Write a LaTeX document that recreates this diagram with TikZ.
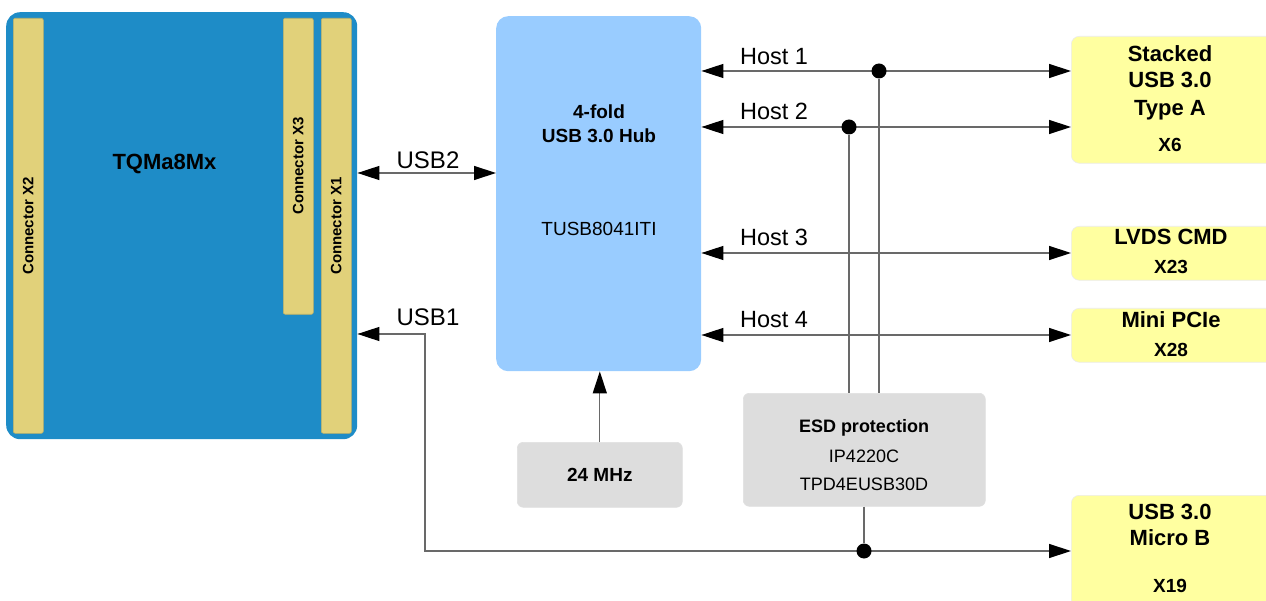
\documentclass[tikz,border=0pt]{standalone}
\usepackage{fontspec}
\setmainfont{Liberation Sans}
\usetikzlibrary{arrows.meta}
\definecolor{moduleblue}{RGB}{30,140,199}
\definecolor{connyellow}{RGB}{225,209,122}
\definecolor{hubblue}{RGB}{153,204,255}
\definecolor{chipgray}{RGB}{221,221,221}
\definecolor{portyellow}{RGB}{255,255,160}
\definecolor{wiregray}{RGB}{105,105,105}
\tikzset{
  box/.style={rectangle, anchor=north west, inner sep=0pt},
  module/.style={box, fill=moduleblue, rounded corners=14pt},
  conn/.style={box, fill=connyellow, draw=connyellow!85!black, line width=0.6pt, rounded corners=2pt},
  hubbox/.style={box, fill=hubblue, rounded corners=12pt},
  chip/.style={box, fill=chipgray, draw=black!12, line width=0.6pt, rounded corners=6pt},
  port/.style={box, fill=portyellow, draw=black!8, line width=0.6pt, rounded corners=8pt},
  txt/.style={anchor=base, inner sep=0pt, font=\fontsize{#1pt}{#1pt}\selectfont},
  btxt/.style={anchor=base, inner sep=0pt, font=\fontsize{#1pt}{#1pt}\selectfont\bfseries},
  wire/.style={draw=wiregray, line width=1.3pt, >={Triangle[length=22pt, width=14pt, color=black]}},
  junction/.style={circle, fill=black, inner sep=0pt, minimum size=15pt},
}

\begin{document}
\begin{tikzpicture}[x=1pt, y=-1pt]
  \useasboundingbox (0,0) rectangle (1266,601);
  \clip (0,0) rectangle (1266,601);

  % module with its connectors
  \node[module, minimum width=351pt, minimum height=427pt] (tqm) at (6,12) {};
  \node[conn, minimum width=30pt, minimum height=415pt] (conx2) at (13,18) {};
  \node[conn, minimum width=30pt, minimum height=296pt] (conx3) at (283,18) {};
  \node[conn, minimum width=30pt, minimum height=415pt] (conx1) at (321,18) {};
  \node[btxt=15, rotate=90, anchor=center] (labx2) at (conx2.center |- 0,226) {Connector X2};
  \node[btxt=15, rotate=90, anchor=center] (labx3) at (conx3.center |- 0,166) {Connector X3};
  \node[btxt=15, rotate=90, anchor=center] (labx1) at (conx1.center |- 0,226) {Connector X1};
  \node[btxt=22] (tqmname) at (164.5,170) {TQMa8Mx};

  % hub, clock and ESD
  \node[hubbox, minimum width=205pt, minimum height=355pt] (hub) at (496,16) {};
  \node[btxt=19] (hubtitle) at (599,119) {4-fold};
  \node[btxt=19] (hubtype) at (599,143) {USB 3.0 Hub};
  \node[txt=19] (hubpart) at (599,236) {TUSB8041ITI};
  \node[chip, minimum width=165pt, minimum height=65pt, font=\fontsize{19pt}{19pt}\selectfont\bfseries] (osc) at (517,442) {24 MHz};
  \node[chip, minimum width=242pt, minimum height=113pt] (esd) at (743,393) {};
  \node[btxt=18] (esdtitle) at (864,432) {ESD protection};
  \node[txt=18] (esdpartA) at (864,462) {IP4220C};
  \node[txt=18] (esdpartB) at (864,490) {TPD4EUSB30D};

  % ports
  \node[port, minimum width=215pt, minimum height=127pt] (stacked) at (1071,36) {};
  \node[btxt=22] (stackedA) at (1170,62) {Stacked};
  \node[btxt=22] (stackedB) at (1170,88) {USB 3.0};
  \node[btxt=22] (stackedC) at (1170,116) {Type A};
  \node[btxt=19] (stackedX) at (1170,152) {X6};
  \node[port, minimum width=215pt, minimum height=54pt] (lvds) at (1071,226) {};
  \node[btxt=22] (lvdsA) at (1171,245) {LVDS CMD};
  \node[btxt=19] (lvdsX) at (1171,274) {X23};
  \node[port, minimum width=215pt, minimum height=54pt] (pcie) at (1071,308) {};
  \node[btxt=22] (pcieA) at (1171,328) {Mini PCIe};
  \node[btxt=19] (pcieX) at (1171,356) {X28};
  \node[port, minimum width=215pt, minimum height=130pt] (microb) at (1071,495) {};
  \node[btxt=22] (microbA) at (1170,519) {USB 3.0};
  \node[btxt=22] (microbB) at (1170,545) {Micro B};
  \node[btxt=19] (microbX) at (1170,592) {X19};

  % links
  \coordinate (usbbend) at (425,334);
  \draw[wire, <->] (tqm.east |- 0,173) -- (hub.west |- 0,173);
  \node[txt=24] (usbtwo) at (428,169) {USB2};
  \draw[wire, <->] (tqm.east |- usbbend) -- (usbbend) |- (microb.west |- 0,551);
  \node[txt=24] (usbone) at (428,326) {USB1};
  \draw[wire, <->] (hub.east |- 0,71) -- (stacked.west |- 0,71);
  \draw[wire, <->] (hub.east |- 0,127) -- (stacked.west |- 0,127);
  \draw[wire, <->] (hub.east |- 0,253) -- (lvds.west |- 0,253);
  \draw[wire, <->] (hub.east |- 0,335) -- (pcie.west |- 0,335);
  \node[txt=23.5] (host1) at (774,65) {Host 1};
  \node[txt=23.5] (host2) at (774,120) {Host 2};
  \node[txt=23.5] (host3) at (774,246) {Host 3};
  \node[txt=23.5] (host4) at (774,328) {Host 4};
  \draw[wire, ->] (osc.north) -- (osc.north |- hub.south);

  \node[junction] (jhost1) at (879,71) {};
  \node[junction] (jhost2) at (849,127) {};
  \node[junction] (jusb1) at (864,551) {};
  \draw[wire] (jhost1) -- (esd.north -| jhost1);
  \draw[wire] (jhost2) -- (esd.north -| jhost2);
  \draw[wire] (esd.south -| jusb1) -- (jusb1);
\end{tikzpicture}
\end{document}
